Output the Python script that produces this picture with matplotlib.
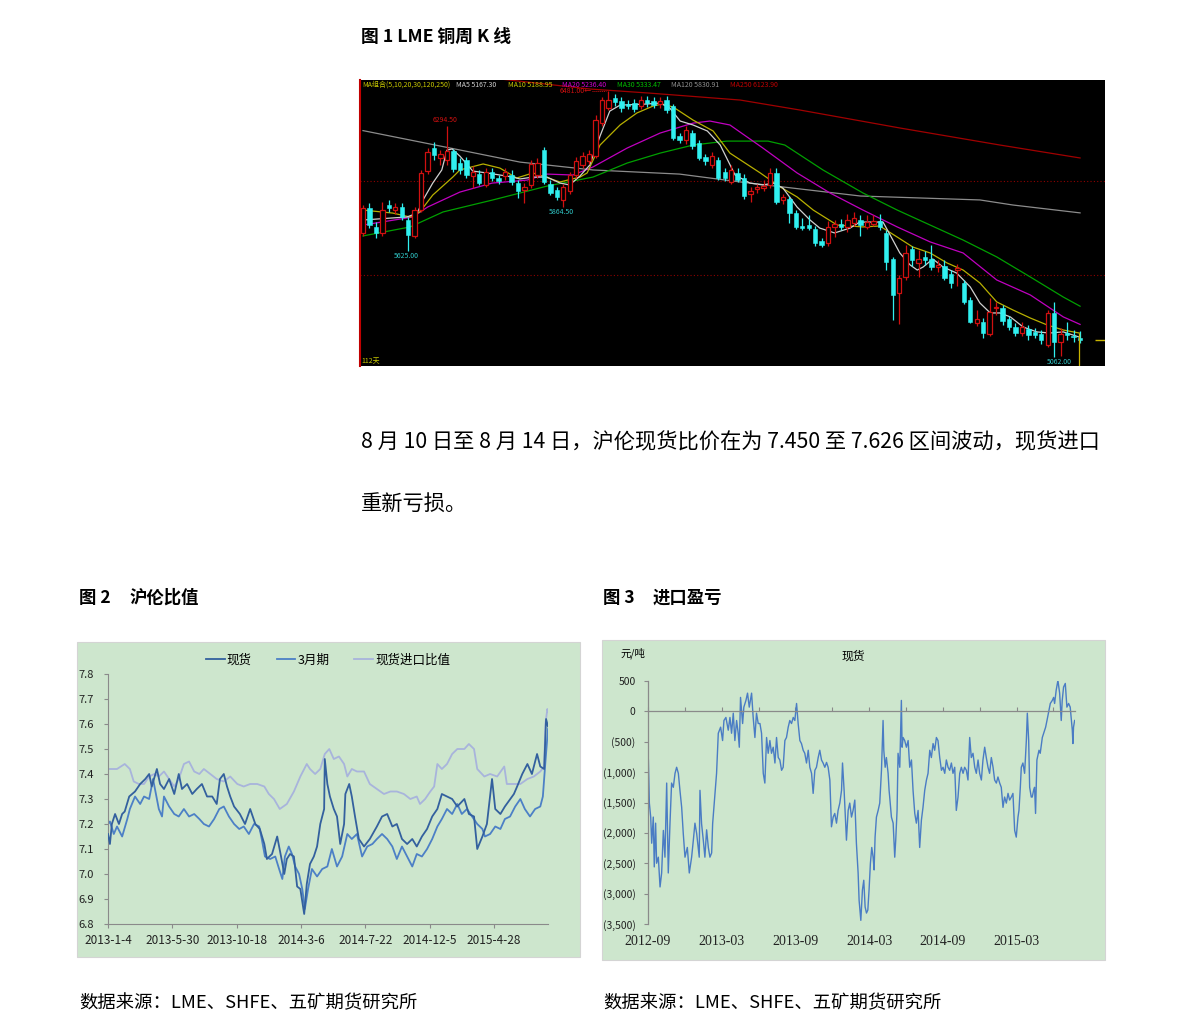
import matplotlib
matplotlib.use('Agg')
import matplotlib.pyplot as plt
from matplotlib.patches import Rectangle
import numpy as np

plt.rcParams['font.family'] = ['Noto Sans CJK SC', 'DejaVu Sans']

# ---------------- figure 1: LME copper weekly candles ----------------
k_open = [5724, 5857, 5756, 5724, 5873, 5846, 5862, 5793, 5708, 5846,
          6054, 6177, 6124, 6113, 6161, 6097, 6113, 6028, 6038, 5980,
          6049, 6017, 6028, 6033, 5990, 5953, 5980, 6033, 6166, 5985,
          5953, 5900, 5948, 6033, 6086, 6108, 6134, 6310, 6390, 6444,
          6428, 6412, 6417, 6401, 6433, 6428, 6412, 6433, 6401, 6241,
          6220, 6257, 6204, 6129, 6086, 6113, 6049, 5996, 6044, 6017,
          5932, 5958, 5964, 5980, 6044, 5900, 5905, 5830, 5761, 5766,
          5745, 5681, 5670, 5756, 5772, 5756, 5777, 5793, 5756, 5772,
          5788, 5724, 5585, 5404, 5489, 5638, 5564, 5596, 5585, 5542,
          5548, 5505, 5526, 5457, 5366, 5244, 5249, 5185, 5324, 5324,
          5265, 5222, 5190, 5212, 5196, 5185, 5126, 5297, 5142, 5190,
          5174, 5164]
k_high = [5873, 5884, 5782, 5889, 5900, 5884, 5884, 5809, 5862, 6060,
          6177, 6209, 6166, 6294.5, 6172, 6124, 6129, 6081, 6060, 6070,
          6070, 6033, 6070, 6060, 6006, 5990, 6113, 6124, 6182, 6006,
          5969, 5985, 6049, 6129, 6156, 6166, 6353, 6449, 6481, 6465,
          6449, 6433, 6438, 6454, 6454, 6449, 6449, 6454, 6412, 6257,
          6294, 6273, 6220, 6145, 6156, 6129, 6070, 6086, 6070, 6038,
          5969, 5985, 6006, 6070, 6070, 5932, 5921, 5846, 5804, 5820,
          5761, 5697, 5788, 5793, 5798, 5825, 5836, 5820, 5820, 5820,
          5825, 5740, 5596, 5500, 5660, 5654, 5633, 5625, 5660, 5580,
          5580, 5526, 5558, 5473, 5382, 5313, 5270, 5377, 5356, 5340,
          5281, 5244, 5249, 5233, 5217, 5206, 5313, 5356, 5217, 5249,
          5206, 5201]
k_low = [5708, 5750, 5697, 5708, 5836, 5825, 5793, 5625, 5697, 5836,
         6038, 6113, 6086, 6086, 6049, 6038, 6017, 5964, 5980, 5969,
         6001, 5985, 6006, 5980, 5910, 5884, 5964, 6017, 5985, 5926,
         5900, 5864.5, 5932, 6017, 6070, 6092, 6124, 6294, 6380, 6401,
         6369, 6385, 6369, 6385, 6396, 6390, 6390, 6364, 6220, 6204,
         6198, 6172, 6113, 6086, 6070, 6006, 6001, 5985, 5996, 5905,
         5889, 5937, 5948, 5964, 5878, 5878, 5777, 5745, 5740, 5740,
         5654, 5649, 5654, 5702, 5740, 5729, 5761, 5708, 5745, 5761,
         5740, 5526, 5260, 5238, 5473, 5548, 5489, 5553, 5526, 5516,
         5473, 5430, 5441, 5345, 5244, 5228, 5164, 5174, 5286, 5233,
         5206, 5174, 5174, 5153, 5164, 5132, 5116, 5062, 5070, 5153,
         5142, 5137]
k_close = [5857, 5766, 5724, 5846, 5857, 5862, 5809, 5713, 5846, 6044,
           6156, 6140, 6145, 6161, 6065, 6060, 6033, 6049, 5990, 6049,
           6017, 6001, 6049, 5996, 5948, 5969, 6092, 6097, 5996, 5937,
           5916, 5969, 6033, 6108, 6134, 6145, 6326, 6433, 6433, 6422,
           6390, 6401, 6385, 6433, 6417, 6406, 6428, 6380, 6230, 6220,
           6273, 6188, 6124, 6108, 6134, 6017, 6017, 6060, 6006, 5921,
           5948, 5969, 5974, 6044, 5889, 5916, 5830, 5756, 5750, 5750,
           5670, 5660, 5756, 5772, 5756, 5793, 5804, 5766, 5782, 5788,
           5756, 5569, 5393, 5484, 5617, 5580, 5585, 5580, 5542, 5553,
           5484, 5457, 5537, 5356, 5249, 5265, 5190, 5302, 5329, 5254,
           5222, 5190, 5222, 5180, 5180, 5153, 5297, 5142, 5185, 5180,
           5169, 5153]

# moving averages (week index, price)
ma5_x = [0, 4.6, 6.8, 8.4, 9.3, 10.8, 12.2, 13, 13.8, 15, 17, 19.2, 21.2, 23.2,
         24.3, 26.3, 28.5, 30.5, 32, 33.6, 35.1, 36.7, 38.2, 39.8, 44, 46, 47.5,
         49.1, 51.1, 53.3, 55.3, 57.6, 59.9, 61.9, 63.5, 65, 67.2, 69.2, 70.7, 73,
         75.4, 76.9, 80.5, 81.6, 83.1, 84.7, 85.8, 86.7, 88.2, 89.8, 91.9, 94,
         95.5, 97.1, 98.6, 100.2, 102.2, 104.3, 106.3, 108.4, 111]
ma5_y = [5793, 5804, 5809, 5830, 5900, 5990, 6060, 6166, 6172, 6134, 6054, 6044,
         6033, 6022, 6012, 6022, 6022, 5990, 5980, 6028, 6086, 6241, 6374, 6406,
         6412, 6417, 6390, 6321, 6300, 6268, 6193, 6033, 5990, 5980, 5990, 5964,
         5862, 5793, 5750, 5724, 5750, 5782, 5782, 5713, 5617, 5553, 5526, 5542,
         5585, 5542, 5510, 5436, 5350, 5297, 5297, 5276, 5222, 5196, 5190, 5196, 5167]
ma10_x = [0, 4.6, 7.3, 8.8, 10.8, 13.9, 15, 18.6, 21.2, 23.8, 26.3, 30.5, 33.6,
          34.7, 36.7, 39.8, 42.4, 44.9, 46.3, 48, 51.1, 54.2, 56.8, 61.5, 64.6,
          67.2, 69.7, 73.4, 77.4, 80, 82.7, 85.1, 87.8, 90.4, 92.9, 95.5, 98.1,
          100.6, 103.3, 105.9, 108.4, 111]
ma10_y = [5846, 5830, 5809, 5836, 5926, 6022, 6060, 6092, 6070, 6017, 6044, 5996,
          6022, 6044, 6193, 6300, 6364, 6401, 6412, 6396, 6326, 6268, 6150, 6044,
          5969, 5916, 5846, 5766, 5756, 5761, 5702, 5649, 5617, 5564, 5526, 5457,
          5356, 5313, 5270, 5233, 5206, 5189]
ma20_x = [0, 7.7, 10, 15, 20, 25.4, 28.5, 32.5, 35.6, 40.9, 46, 51.1, 53.7, 56.8,
          61.9, 67.2, 72.3, 77.4, 82.7, 87.8, 92.9, 98.1, 103.3, 108.4, 111]
ma20_y = [5766, 5809, 5862, 5942, 5990, 6006, 6038, 6033, 6076, 6177, 6257, 6310,
          6321, 6300, 6177, 6044, 5937, 5846, 5756, 5676, 5617, 5473, 5393, 5276, 5236]
ma30_x = [0, 7.3, 12.4, 20.1, 28.5, 35.6, 40.9, 46, 51.1, 56.3, 62.7, 65.3, 71.2,
          77.4, 82.7, 92.9, 98.1, 103.3, 108.4, 111]
ma30_y = [5708, 5756, 5836, 5900, 5974, 6022, 6097, 6150, 6193, 6214, 6214, 6193,
          6060, 5937, 5846, 5686, 5596, 5489, 5382, 5333]
ma120_x = [0, 13.5, 24.3, 35.6, 49, 58.4, 77, 95.5, 100.6, 111]
ma120_y = [6270, 6177, 6102, 6060, 6038, 5996, 5921, 5900, 5873, 5831]
ma250_x = [0, 20, 35.1, 44.4, 58.4, 67.6, 83.1, 98.6, 111]
ma250_y = [6600, 6550, 6492, 6470, 6433, 6380, 6284, 6193, 6124]

ma_labels = ['MA组合(5,10,20,30,120,250)', 'MA5 5167.30', 'MA10 5188.95',
             'MA20 5236.40', 'MA30 5333.47', 'MA120 5830.91', 'MA250 6123.90']

# ---------------- figure 2: SHFE / LME ratio ----------------
spot_day = [0, 3, 6, 11, 17, 22, 26, 33, 42, 50, 58, 64, 68, 76, 81, 87, 95, 103, 110, 115,
            123, 131, 138, 146, 154, 162, 169, 174, 180, 185, 190, 196, 205, 213, 221, 229,
            236, 243, 247, 255, 263, 269, 274, 278, 283, 289, 294, 299, 305, 309, 314, 320,
            325, 330, 336, 337, 341, 345, 351, 356, 361, 367, 369, 375, 379, 384, 390, 398,
            407, 418, 426, 434, 442, 449, 457, 465, 473, 480, 488, 496, 504, 512, 519, 527,
            535, 543, 554, 561, 569, 574, 582, 589, 597, 602, 610, 617, 631, 636, 644, 652,
            659, 667, 672, 678, 681, 684]
spot_ratio = [7.16, 7.12, 7.20, 7.24, 7.20, 7.24, 7.25, 7.31, 7.33, 7.36, 7.38, 7.40, 7.35,
              7.42, 7.36, 7.34, 7.38, 7.32, 7.40, 7.34, 7.36, 7.32, 7.34, 7.36, 7.31, 7.31,
              7.28, 7.38, 7.40, 7.35, 7.31, 7.27, 7.24, 7.20, 7.26, 7.20, 7.18, 7.12, 7.06,
              7.08, 7.15, 7.07, 7.00, 7.06, 7.08, 7.07, 6.95, 6.94, 6.84, 6.96, 7.04, 7.07,
              7.11, 7.20, 7.26, 7.46, 7.36, 7.31, 7.26, 7.23, 7.12, 7.20, 7.32, 7.36, 7.31,
              7.23, 7.14, 7.11, 7.14, 7.19, 7.23, 7.24, 7.19, 7.20, 7.14, 7.12, 7.14, 7.11,
              7.15, 7.18, 7.23, 7.26, 7.32, 7.31, 7.30, 7.27, 7.30, 7.24, 7.23, 7.10, 7.15,
              7.20, 7.38, 7.26, 7.24, 7.27, 7.32, 7.35, 7.40, 7.44, 7.40, 7.48, 7.43, 7.42,
              7.62, 7.59]
m3_day = [0, 3, 9, 14, 22, 30, 34, 42, 50, 56, 64, 70, 79, 84, 87, 95, 103, 110, 118, 126,
          134, 142, 149, 157, 165, 173, 180, 188, 196, 204, 211, 219, 227, 235, 239, 244,
          252, 260, 266, 271, 275, 281, 286, 291, 297, 302, 306, 311, 317, 325, 333, 341,
          348, 356, 364, 372, 379, 387, 395, 403, 411, 418, 426, 434, 442, 449, 457, 465,
          473, 480, 488, 496, 504, 512, 519, 527, 535, 543, 550, 558, 566, 574, 582, 586,
          594, 602, 610, 617, 625, 633, 641, 648, 656, 664, 672, 676, 680, 684]
m3_ratio = [7.20, 7.21, 7.16, 7.19, 7.15, 7.22, 7.26, 7.31, 7.28, 7.31, 7.30, 7.38, 7.26,
            7.23, 7.31, 7.27, 7.24, 7.23, 7.26, 7.23, 7.24, 7.22, 7.20, 7.19, 7.22, 7.26,
            7.27, 7.23, 7.20, 7.18, 7.19, 7.16, 7.20, 7.19, 7.14, 7.07, 7.06, 7.07, 7.02,
            6.98, 7.07, 7.11, 7.08, 7.03, 7.00, 6.94, 6.86, 6.94, 7.02, 6.99, 7.02, 7.03,
            7.10, 7.03, 7.07, 7.16, 7.14, 7.16, 7.07, 7.11, 7.12, 7.14, 7.16, 7.14, 7.11,
            7.06, 7.11, 7.07, 7.03, 7.08, 7.07, 7.10, 7.14, 7.19, 7.22, 7.26, 7.24, 7.28,
            7.24, 7.26, 7.23, 7.20, 7.18, 7.15, 7.16, 7.19, 7.18, 7.22, 7.23, 7.27, 7.30,
            7.26, 7.23, 7.26, 7.27, 7.31, 7.45, 7.58]
imp_day = [0, 14, 26, 34, 40, 48, 56, 64, 72, 79, 87, 95, 103, 110, 118, 126, 134, 142, 149,
           159, 169, 180, 190, 201, 211, 221, 232, 243, 250, 258, 267, 278, 289, 299, 309,
           314, 322, 330, 337, 344, 351, 359, 367, 372, 379, 387, 398, 407, 418, 429, 439,
           449, 460, 470, 480, 485, 493, 501, 507, 512, 519, 527, 535, 543, 554, 561, 569,
           574, 585, 594, 605, 616, 620, 631, 641, 652, 662, 672, 678, 680, 683, 684]
imp_ratio = [7.42, 7.42, 7.44, 7.42, 7.37, 7.36, 7.36, 7.39, 7.40, 7.39, 7.41, 7.38, 7.35,
             7.38, 7.44, 7.45, 7.41, 7.40, 7.42, 7.40, 7.38, 7.37, 7.39, 7.36, 7.35, 7.36,
             7.36, 7.35, 7.32, 7.30, 7.26, 7.28, 7.33, 7.39, 7.44, 7.42, 7.40, 7.42, 7.48,
             7.50, 7.46, 7.47, 7.44, 7.39, 7.42, 7.41, 7.41, 7.36, 7.34, 7.32, 7.33, 7.33,
             7.32, 7.30, 7.31, 7.28, 7.30, 7.33, 7.35, 7.44, 7.42, 7.44, 7.48, 7.50, 7.50,
             7.52, 7.50, 7.42, 7.39, 7.40, 7.39, 7.43, 7.36, 7.36, 7.36, 7.38, 7.39, 7.41,
             7.43, 7.60, 7.66, 7.65]
fig2_tick_days = [0, 100, 200, 300, 400, 500, 600]
fig2_tick_labels = ['2013-1-4', '2013-5-30', '2013-10-18', '2014-3-6', '2014-7-22',
                    '2014-12-5', '2015-4-28']

# ---------------- figure 3: import profit/loss (months since 2012-09) ----------------
pl_month = [0.03, 0.11, 0.22, 0.30, 0.43, 0.51, 0.62, 0.70, 0.84, 0.98,
            1.11, 1.25, 1.38, 1.52, 1.65, 1.79, 1.92, 2.06, 2.20, 2.33,
            2.47, 2.60, 2.74, 2.87, 3.01, 3.20, 3.36, 3.55, 3.69, 3.82,
            3.96, 4.17, 4.23, 4.36, 4.50, 4.63, 4.77, 4.91, 5.04, 5.18,
            5.26, 5.45, 5.58, 5.72, 5.91, 6.07, 6.18, 6.34, 6.53, 6.67,
            6.80, 6.94, 7.07, 7.21, 7.34, 7.43, 7.53, 7.70, 7.80, 7.97,
            8.10, 8.24, 8.43, 8.56, 8.70, 8.83, 8.97, 9.11, 9.24, 9.38,
            9.51, 9.65, 9.78, 9.92, 10.05, 10.19, 10.33, 10.46, 10.60, 10.73,
            10.87, 11.00, 11.14, 11.27, 11.41, 11.54, 11.68, 11.82, 11.95, 12.09,
            12.22, 12.36, 12.49, 12.63, 12.76, 12.90, 13.04, 13.17, 13.31, 13.44,
            13.58, 13.71, 13.85, 13.98, 14.12, 14.25, 14.39, 14.53, 14.66, 14.80,
            14.93, 15.07, 15.20, 15.34, 15.47, 15.61, 15.75, 15.83, 15.96, 16.15,
            16.29, 16.42, 16.56, 16.69, 16.83, 16.96, 17.10, 17.18, 17.32, 17.45,
            17.56, 17.67, 17.78, 17.89, 17.99, 18.10, 18.21, 18.32, 18.40, 18.48,
            18.59, 18.73, 18.86, 19.00, 19.13, 19.19, 19.30, 19.40, 19.54, 19.62,
            19.67, 19.81, 19.95, 20.08, 20.16, 20.27, 20.35, 20.49, 20.62, 20.68,
            20.76, 20.89, 21.03, 21.17, 21.30, 21.44, 21.57, 21.71, 21.84, 21.98,
            22.11, 22.25, 22.38, 22.52, 22.66, 22.79, 22.93, 23.06, 23.20, 23.33,
            23.47, 23.60, 23.74, 23.88, 24.01, 24.15, 24.28, 24.42, 24.55, 24.69,
            24.82, 24.96, 25.04, 25.09, 25.23, 25.37, 25.50, 25.64, 25.77, 25.91,
            26.04, 26.18, 26.31, 26.45, 26.59, 26.72, 26.86, 26.99, 27.13, 27.26,
            27.40, 27.53, 27.67, 27.80, 27.94, 28.08, 28.21, 28.35, 28.48, 28.62,
            28.75, 28.89, 29.02, 29.16, 29.30, 29.43, 29.57, 29.70, 29.84, 29.97,
            30.11, 30.19, 30.30, 30.38, 30.51, 30.65, 30.79, 30.87, 30.98, 31.06,
            31.19, 31.27, 31.38, 31.46, 31.54, 31.65, 31.82, 31.92, 32.09, 32.20,
            32.36, 32.47, 32.63, 32.74, 32.90, 33.01, 33.09, 33.22, 33.36, 33.50,
            33.63, 33.71, 33.82, 33.96, 34.09, 34.23, 34.36, 34.44, 34.53, 34.58,
            34.63, 34.72]
pl_value = [-800, -1510, -1740, -2170, -1740, -2560, -1840, -2500, -2400, -2890,
            -2660, -1960, -2400, -1180, -2660, -1840, -1180, -1250, -1020, -920,
            -1020, -1300, -1580, -2010, -2400, -2240, -2660, -2400, -2120, -1840,
            -2010, -2400, -1300, -1850, -2120, -2400, -1950, -2240, -2400, -2330,
            -1850, -1350, -1020, -360, -260, -480, -150, -100, -310, -100,
            -360, -30, -480, -150, -360, -590, 230, -200, 70, 180,
            300, 70, 300, -100, -430, -30, -200, -200, -360, -1020,
            -1180, -430, -690, -480, -690, -590, -850, -430, -760, -800,
            -970, -920, -480, -430, -260, -150, -200, -100, -150, 130,
            -200, -480, -530, -640, -690, -850, -640, -920, -1020, -1350,
            -970, -920, -760, -640, -800, -850, -920, -840, -920, -1130,
            -1900, -1740, -1680, -1840, -1630, -1510, -1300, -850, -1300, -2120,
            -1630, -1510, -1740, -1630, -1460, -2170, -2660, -3110, -3440, -2940,
            -2780, -3220, -3320, -3270, -2940, -2500, -2240, -2400, -2610, -2070,
            -1740, -1630, -1510, -970, -150, -640, -920, -760, -1020, -1300,
            -1410, -1740, -1840, -2400, -2120, -1630, -690, -920, 180, -590,
            -430, -480, -590, -480, -920, -800, -1300, -1680, -1840, -1630,
            -2240, -1790, -1580, -1300, -1130, -1020, -640, -760, -530, -640,
            -430, -480, -760, -970, -920, -1020, -800, -920, -970, -850,
            -1020, -920, -1350, -1630, -1410, -1020, -920, -1020, -920, -970,
            -1130, -430, -760, -690, -920, -1020, -800, -1020, -1130, -800,
            -590, -760, -920, -1020, -760, -920, -1130, -1180, -1080, -1180,
            -1250, -1580, -1410, -1510, -1350, -1460, -1410, -1350, -1960, -2070,
            -1740, -1630, -1250, -920, -850, -1020, -480, -30, -480, -1250,
            -1410, -1410, -1300, -1250, -1680, -800, -640, -690, -430, -360,
            -260, -150, 20, 130, 180, 230, 130, 350, 510, 300,
            -150, 180, 400, 460, 70, 130, 70, -100, -310, -530,
            -260, -150]
fig3_tick_months = [0, 6, 12, 18, 24, 30]
fig3_tick_labels = ['2012-09', '2013-03', '2013-09', '2014-03', '2014-09', '2015-03']
fig3_yticks = [500, 0, -500, -1000, -1500, -2000, -2500, -3000, -3500]
fig3_ylabels = ['500', '0', '(500)', '(1,000)', '(1,500)', '(2,000)', '(2,500)',
                '(3,000)', '(3,500)']

# ---------------- layout ----------------
W, H = 1191, 1035
fig = plt.figure(figsize=(W / 100, H / 100), dpi=100)
fig.patch.set_facecolor('white')


def fx(px):
    return px / W


def fy(py):
    return 1 - py / H


GREEN_BG = '#cde6cd'
AXIS_GRAY = '#8a8a8a'

# title / text block
fig.text(fx(361), fy(37), '图 1 LME 铜周 K 线', fontsize=12.8, fontweight='bold',
         va='center', ha='left')
fig.text(fx(361), fy(442),
         '8 月 10 日至 8 月 14 日，沪伦现货比价在为 7.450 至 7.626 区间波动，现货进口',
         fontsize=15.3, va='center', ha='left')
fig.text(fx(361), fy(505), '重新亏损。', fontsize=15.3, va='center', ha='left')

# ---- candle chart ----
axk = fig.add_axes([fx(360), fy(366), 745 / W, 286 / H])
axk.set_facecolor('black')
for s in ['top', 'right', 'bottom']:
    axk.spines[s].set_visible(False)
axk.spines['left'].set_color('#c00000')
axk.spines['left'].set_linewidth(1.5)
axk.set_xticks([])
axk.set_yticks([])
axk.set_xlim(-0.46, 114.86)
axk.set_ylim(5014, 6540)

for lvl in [6000, 5500]:
    axk.axhline(lvl, color='#900000', ls=(0, (1, 2)), lw=0.8, zorder=1)

RED = '#d01010'
CYAN = '#30f0f0'
for i in range(len(k_open)):
    o, h, l, c = k_open[i], k_high[i], k_low[i], k_close[i]
    up = c >= o
    col = RED if up else CYAN
    axk.vlines(i, l, h, color=col, lw=0.9, zorder=3)
    lo, hi = min(o, c), max(o, c)
    hgt = max(hi - lo, 4)
    if up:
        axk.bar(i, hgt, bottom=lo, width=0.68, facecolor='black', edgecolor=RED,
                lw=0.9, zorder=4)
    else:
        axk.bar(i, hgt, bottom=lo, width=0.68, facecolor=CYAN, edgecolor=CYAN,
                lw=0.4, zorder=4)

ma_series = [(ma250_x, ma250_y, '#a00000'), (ma120_x, ma120_y, '#8c8c8c'),
             (ma30_x, ma30_y, '#00a000'), (ma20_x, ma20_y, '#c000c0'),
             (ma10_x, ma10_y, '#b8b000'), (ma5_x, ma5_y, '#d0d0d0')]
for mx, my, mc in ma_series:
    axk.plot(mx, my, color=mc, lw=0.9, zorder=2)

label_x = [362, 456, 508, 562, 617, 671, 730]
label_c = ['#c8c800', '#d0d0d0', '#c8c800', '#d000d0', '#00c000', '#909090', '#c00000']
for txt, lx, lc in zip(ma_labels, label_x, label_c):
    axk.text((lx - 360) / 745, (366 - 85) / 286, txt, color=lc, fontsize=5,
             transform=axk.transAxes, va='center', ha='left')
axk.text(0.002, 0.018, '112天', color='#c8c800', fontsize=5, transform=axk.transAxes,
         va='center', ha='left')

# extreme value labels
px_per_price = 286 / (6540 - 5014)
hi_i = 13
axk.text(hi_i - 0.3, k_high[hi_i] + 6 / px_per_price, f'{k_high[hi_i]:.2f}', color=RED,
         fontsize=5, ha='center', va='center')
top_i = int(np.argmax(k_high))
axk.text(top_i - 2.6, k_high[top_i], f'{k_high[top_i]:.2f}←', color=RED, fontsize=5,
         ha='right', va='center')
axk.plot([top_i - 2.5, top_i - 0.4], [k_high[top_i]] * 2, color=RED, lw=0.7, ls=(0, (1, 1)))
for lo_i, dx in [(7, -0.3), (31, -0.3), (int(np.argmin(k_low)), 0.8)]:
    axk.text(lo_i + dx, k_low[lo_i] - 1 / px_per_price, f'{k_low[lo_i]:.2f}',
             color='#30c8c8', fontsize=5, ha='center', va='top')

# current-bar cursor
axk.vlines(len(k_open) - 1.2, 5014, ma10_y[-1], color='#c8b400', lw=0.9, zorder=5)
axk.hlines(k_close[-1], 113.3, 114.86, color='#c8b400', lw=1.0, zorder=5)

# ---- figure 2 ----
fig.text(fx(79), fy(598), '图 2', fontsize=12.5, fontweight='bold', va='center')
fig.text(fx(129), fy(598), '沪伦比值', fontsize=12.5, fontweight='bold', va='center')
fig.add_artist(Rectangle((fx(77), fy(957)), 503 / W, 315 / H, transform=fig.transFigure,
                         facecolor=GREEN_BG, edgecolor='#d4d4d4', lw=0.8, zorder=-5))
ax2 = fig.add_axes([fx(108), fy(924), 440 / W, 250 / H])
ax2.set_facecolor('none')
ax2.plot(spot_day, spot_ratio, color='#33609e', lw=1.3, label='现货', zorder=3)
ax2.plot(m3_day, m3_ratio, color='#4c80c6', lw=1.3, label='3月期', zorder=2)
ax2.plot(imp_day, imp_ratio, color='#a8b4dc', lw=1.3, label='现货进口比值', zorder=1)
ax2.set_xlim(0, 684)
ax2.set_ylim(6.8, 7.8)
yt = np.round(np.arange(6.8, 7.81, 0.1), 1)
ax2.set_yticks(yt)
ax2.set_yticklabels([f'{v:.1f}' for v in yt])
ax2.set_xticks(fig2_tick_days)
ax2.set_xticklabels(fig2_tick_labels)
for s in ['top', 'right']:
    ax2.spines[s].set_visible(False)
for s in ['left', 'bottom']:
    ax2.spines[s].set_color(AXIS_GRAY)
    ax2.spines[s].set_linewidth(0.8)
ax2.tick_params(axis='y', direction='out', length=3, color=AXIS_GRAY, labelsize=8,
                pad=7, labelcolor='#222222')
ax2.tick_params(axis='x', direction='out', length=3, color=AXIS_GRAY, labelsize=8.5,
                pad=4, labelcolor='#222222')
ax2.legend(ncol=3, loc='center', bbox_to_anchor=(0.5, 1.056), frameon=False,
           fontsize=9, handlelength=1.5, handletextpad=0.15, columnspacing=2.0)

# ---- figure 3 ----
fig.text(fx(603), fy(598), '图 3', fontsize=12.5, fontweight='bold', va='center')
fig.text(fx(653), fy(598), '进口盈亏', fontsize=12.5, fontweight='bold', va='center')
fig.add_artist(Rectangle((fx(602), fy(960)), 503 / W, 320 / H, transform=fig.transFigure,
                         facecolor=GREEN_BG, edgecolor='#d4d4d4', lw=0.8, zorder=-5))
ax3 = fig.add_axes([fx(648), fy(924), 427 / W, 243 / H])
ax3.set_facecolor('none')
ax3.plot(pl_month, pl_value, color='#4a7cc4', lw=1.0)
ax3.set_xlim(0, 34.75)
ax3.set_ylim(-3500, 500)
ax3.set_yticks(fig3_yticks)
ax3.set_yticklabels(fig3_ylabels)
ax3.set_xticks(np.arange(0, 34, 3))
ax3.set_xticklabels([])
for s in ['top', 'right']:
    ax3.spines[s].set_visible(False)
ax3.spines['bottom'].set_position(('data', 0))
for s in ['left', 'bottom']:
    ax3.spines[s].set_color(AXIS_GRAY)
    ax3.spines[s].set_linewidth(0.9)
ax3.tick_params(axis='y', direction='out', length=3, color=AXIS_GRAY, labelsize=7.5,
                pad=6, labelcolor='#222222')
ax3.tick_params(axis='x', direction='in', length=3, color=AXIS_GRAY)
for m, lab in zip(fig3_tick_months, fig3_tick_labels):
    ax3.text(m, -0.07, lab, transform=ax3.get_xaxis_transform(), ha='center', va='center',
             fontsize=10, family=['Liberation Serif', 'DejaVu Serif'], color='#222222')
fig.text(fx(620), fy(653), '元/吨', fontsize=7.5, va='center', ha='left')
fig.text(fx(853), fy(656), '现货', fontsize=8.5, va='center', ha='center')

# ---- sources ----
fig.text(fx(79), fy(1003), '数据来源：LME、SHFE、五矿期货研究所', fontsize=13.2,
         style='italic', va='center', ha='left')
fig.text(fx(603), fy(1003), '数据来源：LME、SHFE、五矿期货研究所', fontsize=13.2,
         style='italic', va='center', ha='left')

fig.savefig('out.png', dpi=100, facecolor='white')
